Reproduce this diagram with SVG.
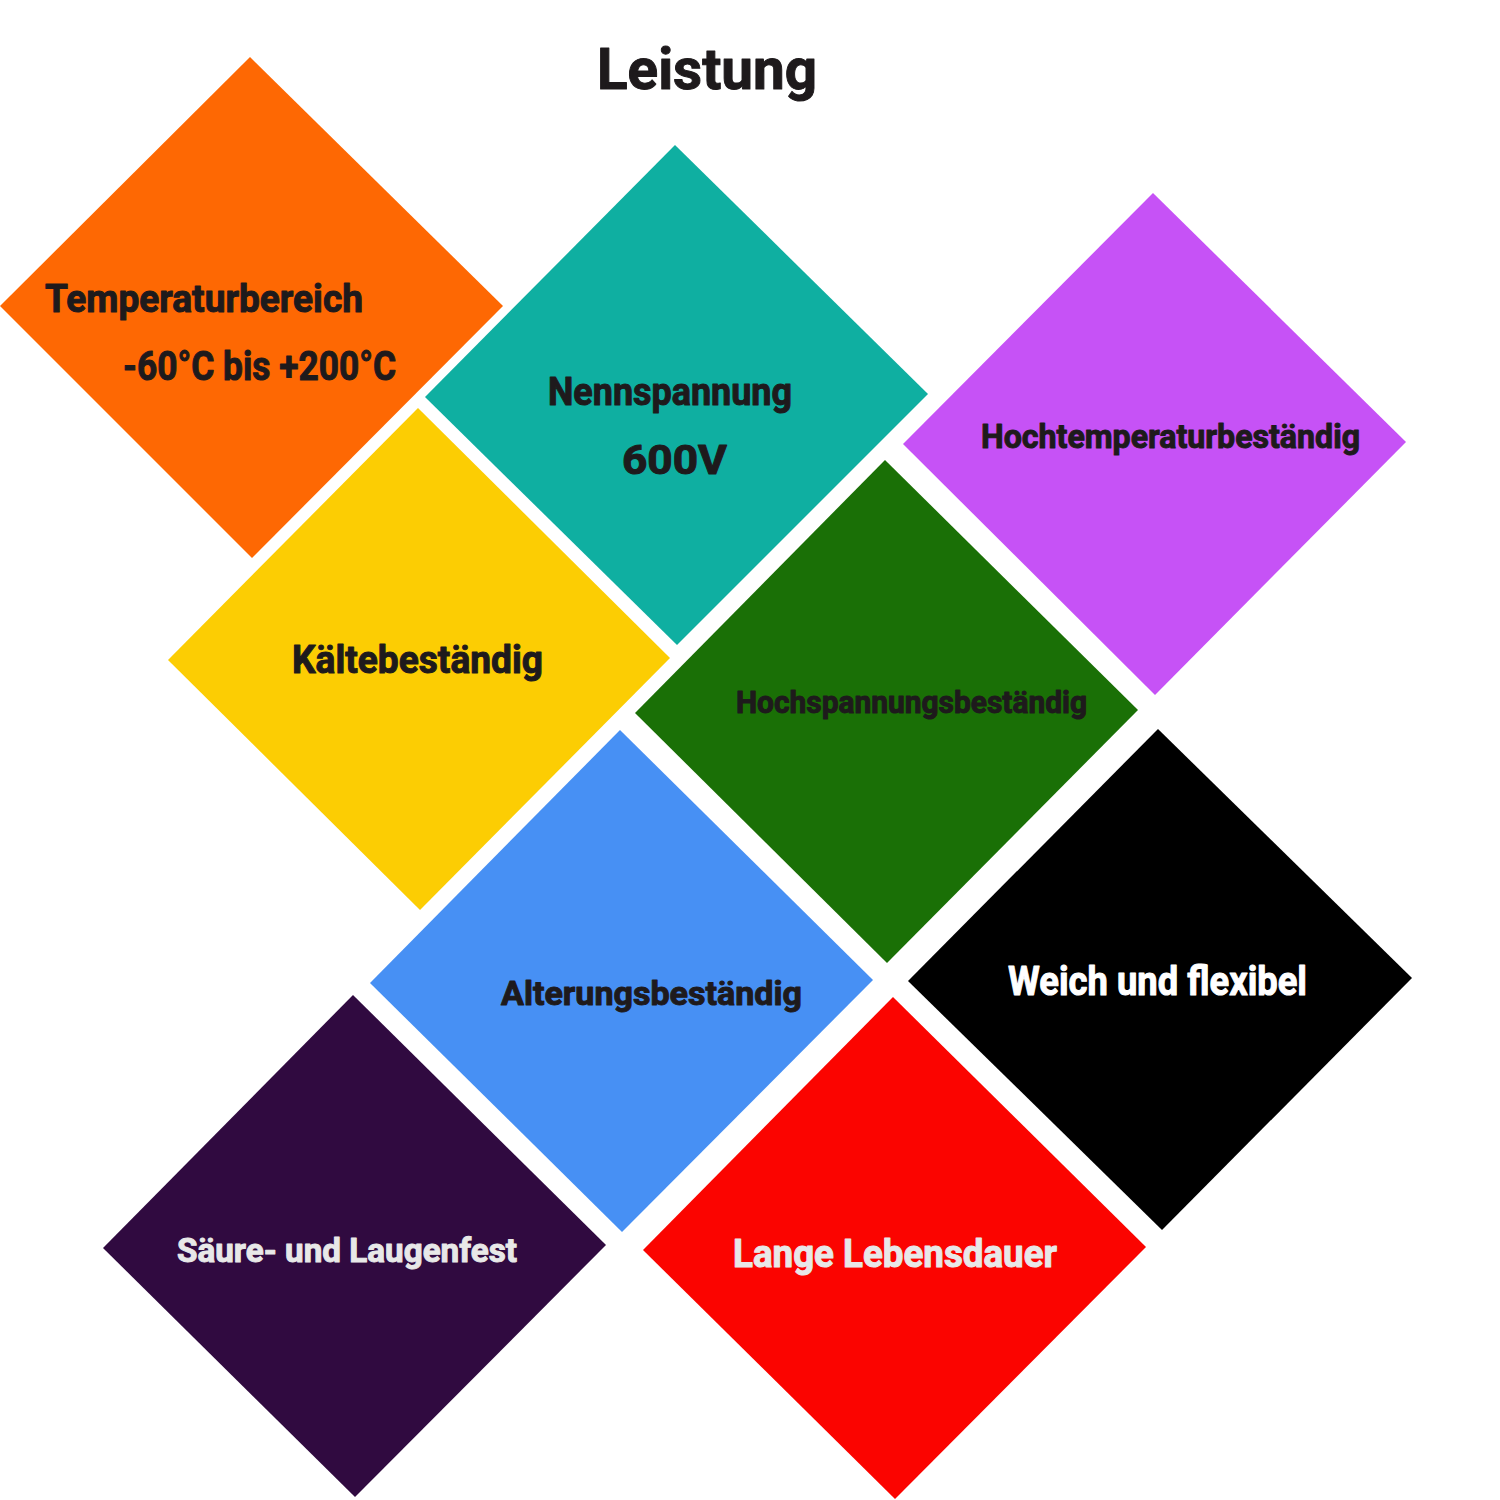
<svg xmlns="http://www.w3.org/2000/svg" width="1500" height="1500" viewBox="0 0 1500 1500">
<style>
.t{font-family:Roboto,"Liberation Sans",sans-serif;font-weight:700;fill:#1e1a1c;stroke:#1e1a1c;stroke-width:1;stroke-linejoin:round}
.w{fill:#ffffff;stroke:#ffffff}
.g{fill:#e8e8e8;stroke:#e8e8e8}
</style>
<rect width="1500" height="1500" fill="#ffffff"/>
<text class="t" x="597" y="89" font-size="58" textLength="220" lengthAdjust="spacingAndGlyphs">Leistung</text>
<g id="temperaturbereich">
<polygon points="250,57 503,306 252,558 0,306" fill="#fe6803"/>
<text class="t" x="45" y="312" font-size="38" textLength="318" lengthAdjust="spacingAndGlyphs">Temperaturbereich</text>
<text class="t" x="123" y="380" font-size="40" textLength="273" lengthAdjust="spacingAndGlyphs">-60°C bis +200°C</text>
</g>
<g id="nennspannung">
<polygon points="675,145 928,394 677,645 425,397" fill="#0fafa1"/>
<text class="t" x="548" y="405" font-size="38" textLength="244" lengthAdjust="spacingAndGlyphs">Nennspannung</text>
<text class="t" x="622" y="474" font-size="40" textLength="105" lengthAdjust="spacingAndGlyphs">600V</text>
</g>
<g id="hochtemperatur">
<polygon points="1153,193 1406,442 1155,695 903,444" fill="#c652f6"/>
<text class="t" x="981" y="448" font-size="33" textLength="379" lengthAdjust="spacingAndGlyphs">Hochtemperaturbeständig</text>
</g>
<g id="kaelte">
<polygon points="418,408 670,658 420,910 168,660" fill="#fccd03"/>
<text class="t" x="292" y="673" font-size="38" textLength="251" lengthAdjust="spacingAndGlyphs">Kältebeständig</text>
</g>
<g id="hochspannung">
<polygon points="885,460 1138,710 887,963 635,713" fill="#1a7006"/>
<text class="t" x="736" y="713" font-size="31" textLength="351" lengthAdjust="spacingAndGlyphs">Hochspannungsbeständig</text>
</g>
<g id="alterung">
<polygon points="620,730 873,980 622,1232 370,983" fill="#4790f4"/>
<text class="t" x="501" y="1005" font-size="34" textLength="301" lengthAdjust="spacingAndGlyphs">Alterungsbeständig</text>
</g>
<g id="weich">
<polygon points="1158,729 1412,978 1162,1230 908,981" fill="#000000"/>
<text class="t w" x="1008" y="995" font-size="40" textLength="299" lengthAdjust="spacingAndGlyphs">Weich und flexibel</text>
</g>
<g id="saeure">
<polygon points="353,995 606,1245 355,1497 103,1248" fill="#300a40"/>
<text class="t g" x="177" y="1262" font-size="34" textLength="340" lengthAdjust="spacingAndGlyphs">Säure- und Laugenfest</text>
</g>
<g id="lebensdauer">
<polygon points="893,997 1146,1247 895,1499 643,1250" fill="#fb0400"/>
<text class="t g" x="733" y="1267" font-size="38" textLength="324" lengthAdjust="spacingAndGlyphs">Lange Lebensdauer</text>
</g>
<g id="connectors"/>
</svg>
